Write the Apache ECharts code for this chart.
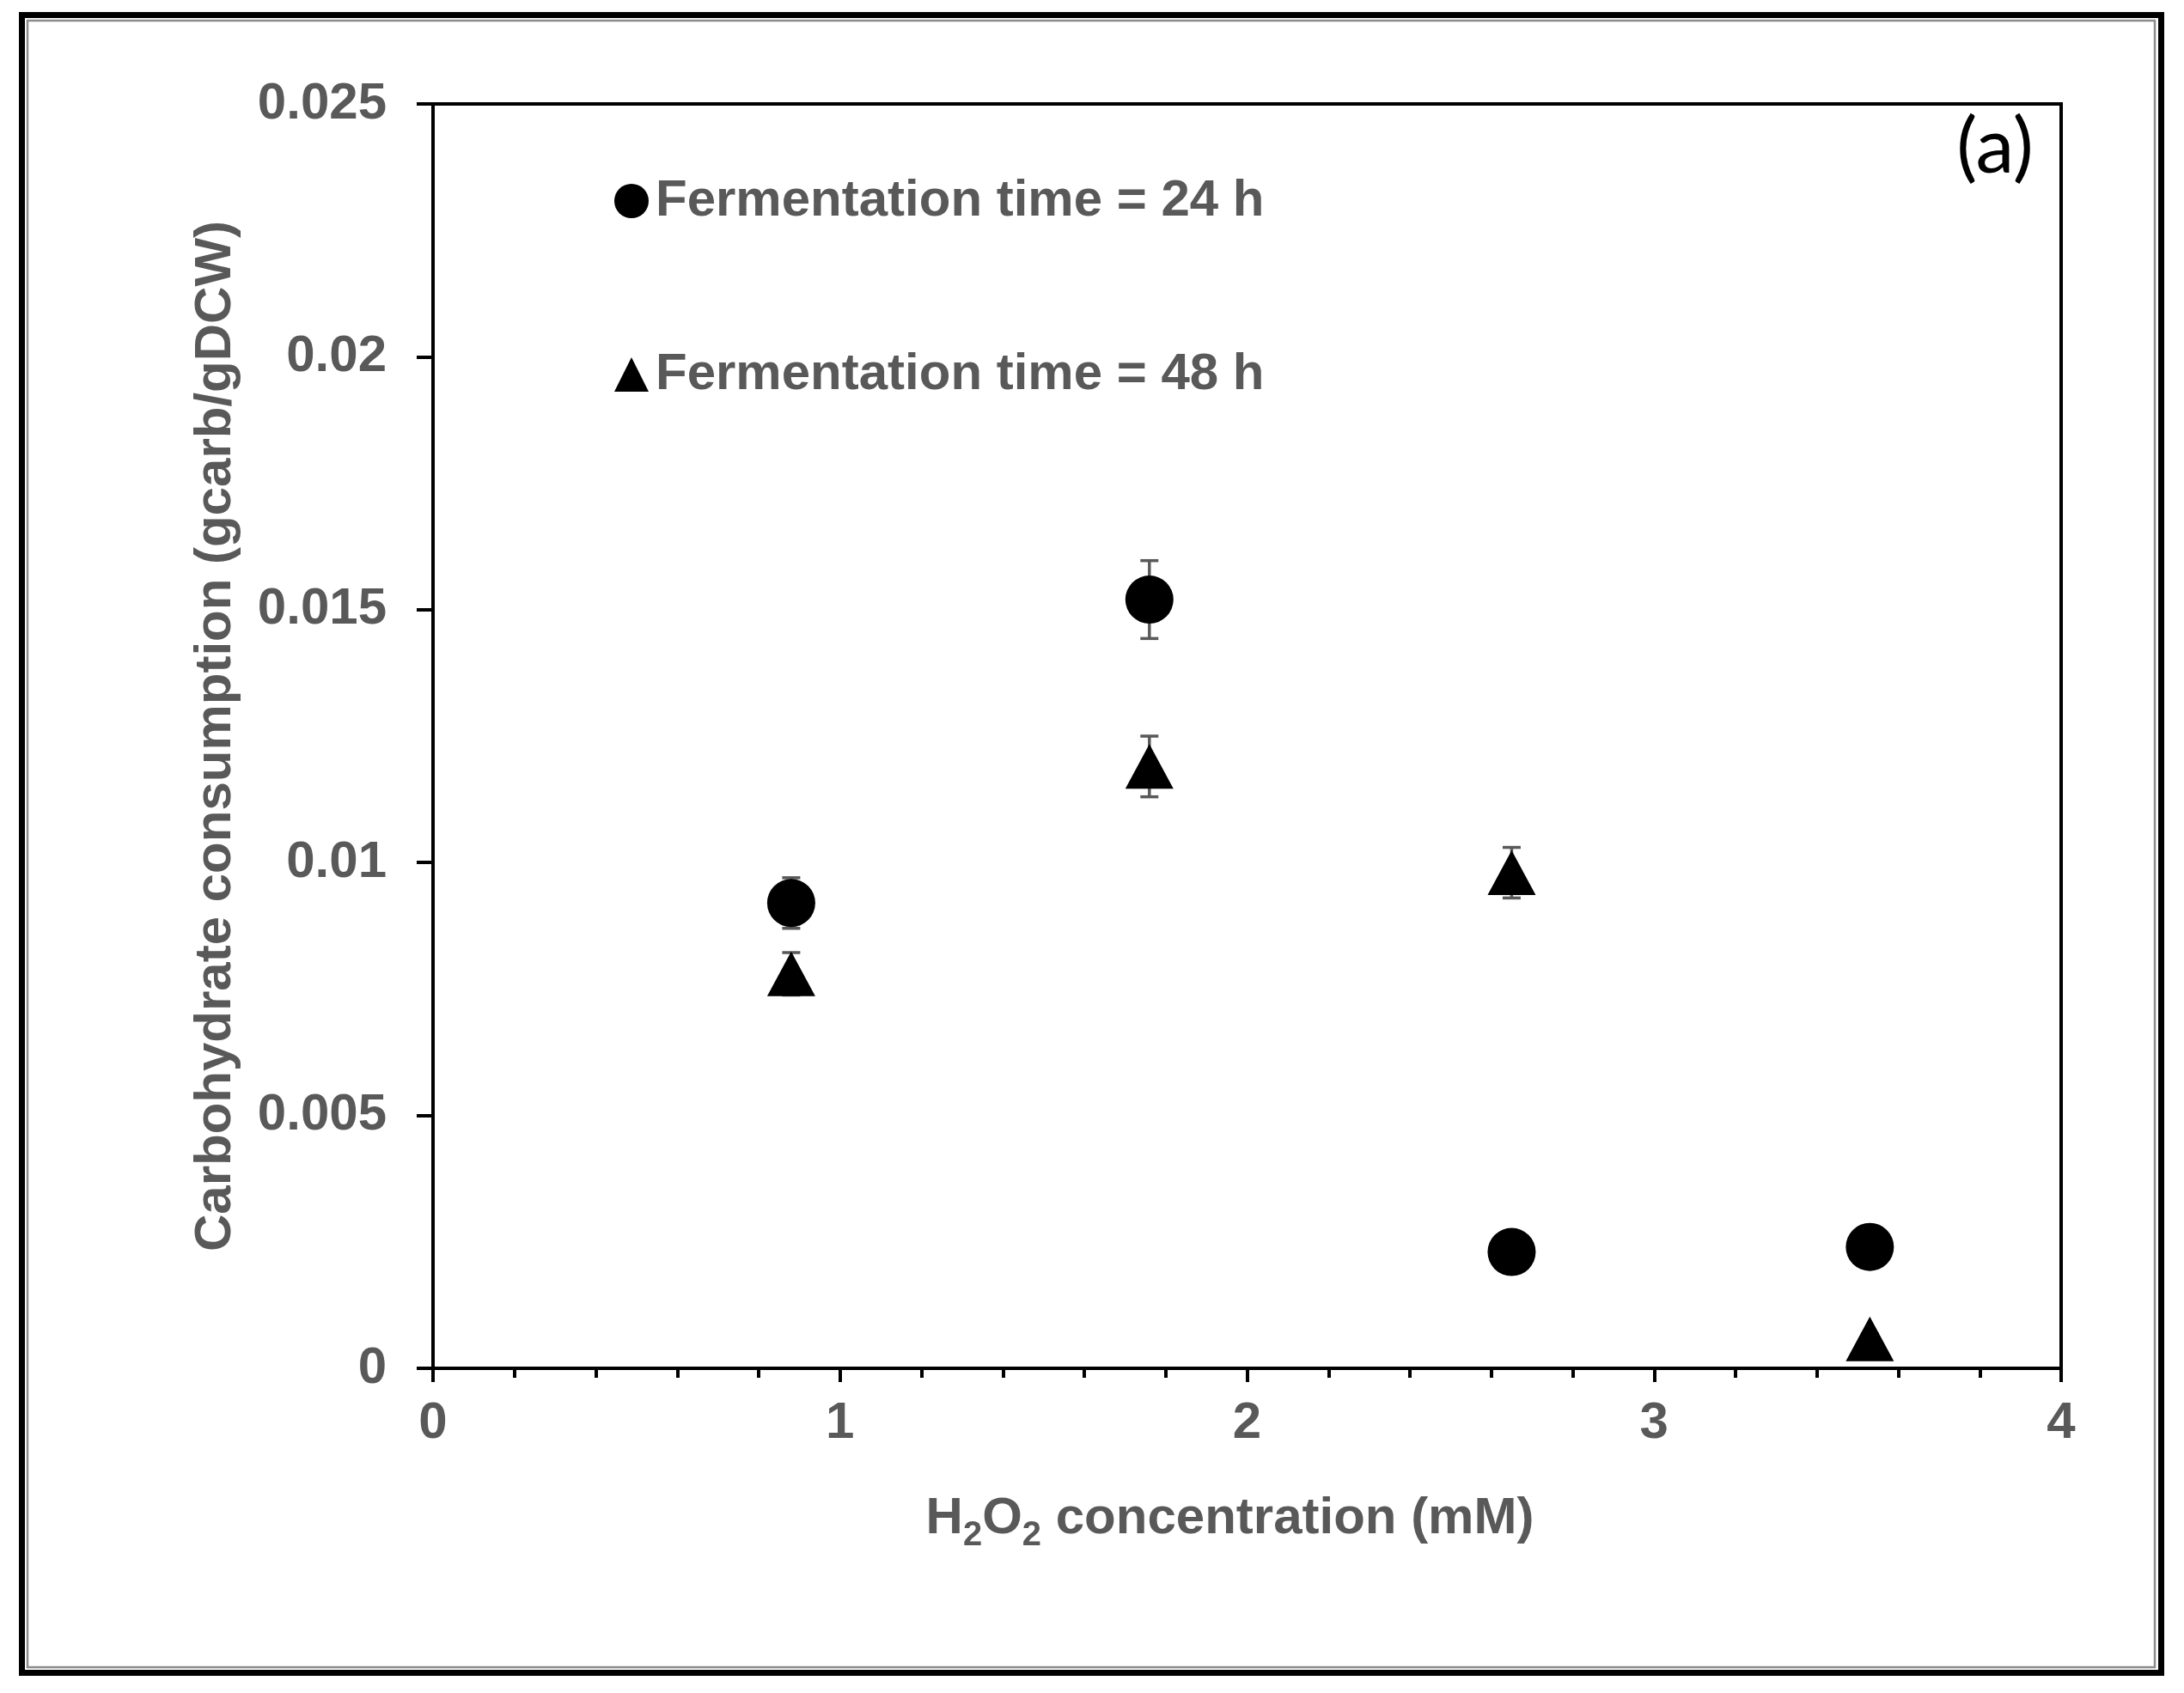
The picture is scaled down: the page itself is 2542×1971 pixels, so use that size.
<!DOCTYPE html>
<html>
<head>
<meta charset="utf-8">
<title>Carbohydrate consumption vs H2O2</title>
<script src="https://cdn.jsdelivr.net/npm/echarts@6/dist/echarts.min.js"></script>
<style>
  html, body { margin: 0; padding: 0; background: #fff; }
  #main { width: 2542px; height: 1971px; }
</style>
</head>
<body>
<div id="main"></div>
<script>
// values
var h2o2 = [0.88, 1.76, 2.65, 3.53];            // mM
var carb24 = [0.0092, 0.0152, 0.0023, 0.0024];  // gcarb/gDCW, 24 h
var err24 = [0.0005, 0.00077, 0.0002, 0.0002];
var carb48 = [0.0078, 0.0119, 0.0098, 0.00058]; // gcarb/gDCW, 48 h
var err48 = [0.00042, 0.0006, 0.0005, 0.0001];
var seriesNames = ['Fermentation time = 24 h', 'Fermentation time = 48 h'];

var FONT = "'Liberation Sans', Arial, sans-serif";
var GREY = '#595959';

var pts = function (ys) { return h2o2.map(function (x, i) { return [x, ys[i]]; }); };
var errPts = function (ys, es) { return h2o2.map(function (x, i) { return [x, ys[i], es[i]]; }); };

// vertical error bar with caps
var renderErr = function (params, api) {
  var x = api.value(0), y = api.value(1), e = api.value(2);
  var hi = api.coord([x, y + e]);
  var lo = api.coord([x, y - e]);
  var w = 10.5;
  var st = { stroke: GREY, lineWidth: 3.5 };
  return {
    type: 'group',
    children: [
      { type: 'line', shape: { x1: hi[0], y1: hi[1], x2: lo[0], y2: lo[1] }, style: st },
      { type: 'line', shape: { x1: hi[0] - w, y1: hi[1], x2: hi[0] + w, y2: hi[1] }, style: st },
      { type: 'line', shape: { x1: lo[0] - w, y1: lo[1], x2: lo[0] + w, y2: lo[1] }, style: st }
    ]
  };
};

var chart = echarts.init(document.getElementById('main'));
chart.setOption({
  animation: false,
  backgroundColor: '#fff',
  grid: {
    left: 504, top: 121, right: 143, bottom: 378,
    show: true, borderColor: '#000', borderWidth: 4
  },
  legend: {
    orient: 'vertical',
    left: 710, top: 199,
    itemGap: 142,
    itemWidth: 40, itemHeight: 40,
    data: seriesNames,
    textStyle: { fontFamily: FONT, fontSize: 60, fontWeight: 'bold', color: GREY, padding: [0, 0, 0, 3] }
  },
  xAxis: {
    type: 'value',
    min: 0, max: 4, interval: 1,
    name: '{n|H}{s|2}{n|O}{s|2}{n| concentration (mM)}',
    nameLocation: 'middle',
    nameGap: 135,
    nameTextStyle: {
      padding: [0, 40, 0, 0],
      rich: {
        n: { fontFamily: FONT, fontSize: 60, fontWeight: 'bold', color: GREY, lineHeight: 80 },
        s: { fontFamily: FONT, fontSize: 40, fontWeight: 'bold', color: GREY, lineHeight: 40, verticalAlign: 'bottom' }
      }
    },
    axisLine: { lineStyle: { color: '#000', width: 4 } },
    axisTick: { length: 16, lineStyle: { color: '#000', width: 4 } },
    minorTick: { show: true, splitNumber: 5, length: 11, lineStyle: { color: '#000', width: 4 } },
    splitLine: { show: false },
    minorSplitLine: { show: false },
    axisLabel: { margin: 34, fontFamily: FONT, fontSize: 60, fontWeight: 'bold', color: GREY }
  },
  yAxis: {
    type: 'value',
    min: 0, max: 0.025, interval: 0.005,
    name: 'Carbohydrate consumption (gcarb/gDCW)',
    nameLocation: 'middle',
    nameGap: 223,
    nameTextStyle: { fontFamily: FONT, fontSize: 60, fontWeight: 'bold', color: GREY },
    axisLine: { show: true, lineStyle: { color: '#000', width: 4 } },
    axisTick: { show: true, length: 19, lineStyle: { color: '#000', width: 4 } },
    splitLine: { show: false },
    axisLabel: {
      margin: 54, fontFamily: FONT, fontSize: 60, fontWeight: 'bold', color: GREY,
      formatter: function (v) { return String(+v.toFixed(3)); }
    }
  },
  graphic: [
    { type: 'rect', silent: true, z: 100,
      shape: { x: 25.5, y: 17.5, width: 2490, height: 1930 },
      style: { fill: null, stroke: '#000', lineWidth: 7 } },
    { type: 'rect', silent: true, z: 100,
      shape: { x: 32, y: 24, width: 2476, height: 1917 },
      style: { fill: null, stroke: '#8c8c8c', lineWidth: 2.5 } },
    { type: 'text', silent: true, z: 100,
      x: 2322, y: 172,
      style: { text: '(a)', fill: '#000', font: "90px Lato, 'Open Sans', sans-serif",
               textAlign: 'center', textVerticalAlign: 'middle' } }
  ],
  series: [
    { type: 'custom', name: 'err24', z: 1, renderItem: renderErr,
      encode: { x: 0, y: 1 }, data: errPts(carb24, err24) },
    { type: 'custom', name: 'err48', z: 1, renderItem: renderErr,
      encode: { x: 0, y: 1 }, data: errPts(carb48, err48) },
    { type: 'scatter', name: seriesNames[0], z: 3, symbol: 'circle', symbolSize: 56,
      itemStyle: { color: '#000', opacity: 1 }, data: pts(carb24) },
    { type: 'scatter', name: seriesNames[1], z: 3, symbol: 'triangle', symbolSize: [56, 52],
      itemStyle: { color: '#000', opacity: 1 }, data: pts(carb48) }
  ]
});
</script>
</body>
</html>
